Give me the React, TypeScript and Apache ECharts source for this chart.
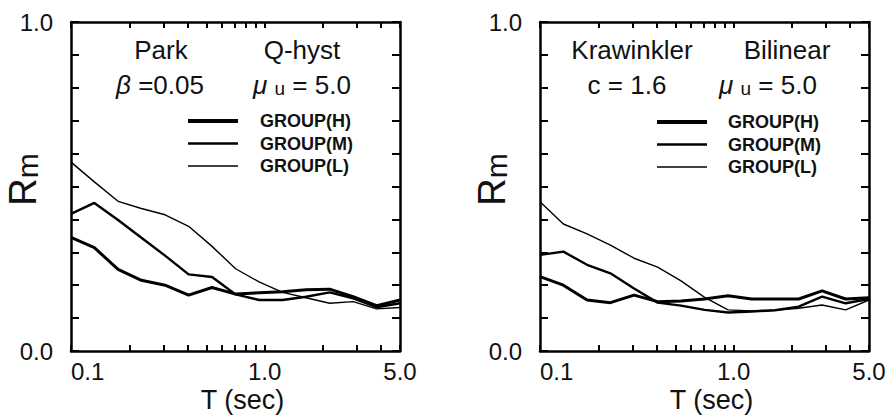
import React, { useEffect, useRef } from 'react';
import * as echarts from 'echarts';

// Periods T (sec) at which the spectra were read
const periods = [0.1, 0.132, 0.175, 0.231, 0.306, 0.405, 0.535, 0.708, 0.936, 1.238, 1.637, 2.165, 2.863, 3.786, 5.0];

// Left panel: Park (beta = 0.05), Q-hyst, mu_u = 5.0
const parkH = [0.345, 0.314, 0.248, 0.215, 0.2, 0.17, 0.193, 0.173, 0.177, 0.18, 0.186, 0.188, 0.165, 0.138, 0.155];
const parkM = [0.417, 0.45, 0.398, 0.344, 0.29, 0.233, 0.225, 0.172, 0.155, 0.155, 0.165, 0.178, 0.16, 0.133, 0.145];
const parkL = [0.574, 0.514, 0.455, 0.433, 0.414, 0.379, 0.318, 0.25, 0.21, 0.178, 0.162, 0.145, 0.15, 0.128, 0.132];

// Right panel: Krawinkler (c = 1.6), Bilinear, mu_u = 5.0
const kraH = [0.226, 0.2, 0.155, 0.147, 0.17, 0.15, 0.152, 0.158, 0.168, 0.158, 0.158, 0.158, 0.183, 0.158, 0.162];
const kraM = [0.292, 0.302, 0.262, 0.236, 0.19, 0.147, 0.138, 0.125, 0.117, 0.12, 0.124, 0.135, 0.165, 0.145, 0.158];
const kraL = [0.454, 0.386, 0.356, 0.322, 0.282, 0.255, 0.213, 0.163, 0.125, 0.122, 0.124, 0.13, 0.14, 0.125, 0.155];

const seriesNames = ['GROUP(H)', 'GROUP(M)', 'GROUP(L)'];
const xTickLabels = [0.1, 1.0, 5.0];
const xTicks = [0.1, 0.2, 0.3, 0.4, 0.5, 0.6, 0.7, 0.8, 0.9, 1.0, 2.0, 3.0, 4.0, 5.0];
const yTickLabels = [0.0, 1.0];

const FONT = '"Liberation Sans", Arial, Helvetica, sans-serif';
const INK = '#111';

export default function App() {
  const ref = useRef<HTMLDivElement>(null);

  useEffect(() => {
    if (!ref.current) return;
    const chart = echarts.init(ref.current, null, { renderer: 'svg' });

    const grids = [
      { left: 71, top: 22, width: 329, height: 329, containLabel: false, outerBoundsMode: 'none' },
      { left: 540, top: 22, width: 329, height: 329, containLabel: false, outerBoundsMode: 'none' },
    ];

    const axisLine = { show: true, onZero: false, lineStyle: { color: '#000', width: 2.5 } };

    const xAxes: any[] = [];
    const yAxes: any[] = [];
    grids.forEach((_, gi) => {
      xAxes.push({
        type: 'log',
        logBase: 10,
        gridIndex: gi,
        min: 0.1,
        max: 5,
        position: 'bottom',
        axisLine,
        axisTick: { show: true, inside: true, length: 6, customValues: xTicks, lineStyle: { color: '#000', width: 2 } },
        axisLabel: {
          show: true,
          customValues: xTickLabels,
          formatter: (v: number) => v.toFixed(1),
          fontSize: 24,
          fontFamily: FONT,
          color: INK,
          margin: 8,
          alignMinLabel: 'left',
        },
        splitLine: { show: false },
        minorTick: { show: false },
        name: 'T (sec)',
        nameLocation: 'middle',
        nameGap: 35,
        nameMoveOverlap: false,
        nameTextStyle: { fontSize: 27, fontFamily: FONT, color: INK, padding: [0, 0, 0, 14] },
      });
      xAxes.push({
        type: 'log',
        logBase: 10,
        gridIndex: gi,
        min: 0.1,
        max: 5,
        position: 'top',
        axisLine,
        axisTick: { show: true, inside: true, length: 6, customValues: xTicks, lineStyle: { color: '#000', width: 2 } },
        axisLabel: { show: false },
        splitLine: { show: false },
      });
      yAxes.push({
        type: 'value',
        gridIndex: gi,
        min: 0,
        max: 1,
        interval: 0.1,
        position: 'left',
        axisLine,
        axisTick: { show: true, inside: true, length: 8, lineStyle: { color: '#000', width: 2 } },
        axisLabel: {
          show: true,
          customValues: yTickLabels,
          formatter: (v: number) => v.toFixed(1),
          fontSize: 24,
          fontFamily: FONT,
          color: INK,
          margin: 18,
        },
        splitLine: { show: false },
        name: '{r|R}{m|m}',
        nameLocation: 'middle',
        nameGap: 29,
        nameMoveOverlap: false,
        nameTextStyle: {
          color: INK,
          padding: [0, 0, 0, 14],
          rich: {
            r: { fontSize: 38, fontFamily: FONT, color: INK, verticalAlign: 'bottom' },
            m: { fontSize: 30, fontFamily: FONT, color: INK, verticalAlign: 'bottom' },
          },
        },
      });
      yAxes.push({
        type: 'value',
        gridIndex: gi,
        min: 0,
        max: 1,
        interval: 0.1,
        position: 'right',
        axisLine,
        axisTick: { show: true, inside: true, length: 8, lineStyle: { color: '#000', width: 2 } },
        axisLabel: { show: false },
        splitLine: { show: false },
      });
    });

    const widths = [3, 2.4, 1.4];
    const panels = [
      [parkH, parkM, parkL],
      [kraH, kraM, kraL],
    ];
    const series: any[] = [];
    panels.forEach((sets, gi) => {
      sets.forEach((vals, si) => {
        series.push({
          type: 'line',
          name: seriesNames[si],
          xAxisIndex: gi * 2,
          yAxisIndex: gi * 2,
          data: periods.map((t, i) => [t, vals[i]]),
          symbol: 'none',
          color: '#000',
          lineStyle: { color: '#000', width: widths[si] },
        });
      });
    });

    const legendIcons = ['path://M0,0H50V4H0Z', 'path://M0,0H50V2.4H0Z', 'path://M0,0H50V1.4H0Z'];
    const legendData = seriesNames.map((n, i) => ({
      name: n,
      icon: legendIcons[i],
      itemStyle: { color: '#000', borderWidth: 0 },
    }));
    const legendBase = {
      orient: 'vertical',
      padding: 0,
      itemWidth: 50,
      itemHeight: 14,
      itemGap: 4.5,
      selectedMode: false,
      data: legendData,
      textStyle: { fontSize: 18, fontWeight: 'bold', lineHeight: 18, fontFamily: FONT, color: INK, padding: [0, 0, 0, 17] },
    };

    const txt = (x: number, y: number, text: string, rich?: any) => ({
      type: 'text',
      x,
      y,
      style: {
        text,
        fontSize: 26,
        fontFamily: FONT,
        fill: INK,
        align: 'center',
        verticalAlign: 'middle',
        rich,
      },
    });
    const greek = {
      g: { fontStyle: 'italic', fontSize: 26, fontFamily: FONT, color: INK, verticalAlign: 'bottom' },
      n: { fontSize: 26, fontFamily: FONT, color: INK, verticalAlign: 'bottom' },
    };
    const greekSub = {
      g: { fontStyle: 'italic', fontSize: 26, fontFamily: FONT, color: INK, verticalAlign: 'bottom' },
      s: { fontSize: 19, fontFamily: FONT, color: INK, verticalAlign: 'bottom' },
      n: { fontSize: 26, fontFamily: FONT, color: INK, verticalAlign: 'bottom' },
    };

    chart.setOption({
      animation: false,
      backgroundColor: '#fff',
      grid: grids,
      xAxis: xAxes,
      yAxis: yAxes,
      series,
      legend: [
        { ...legendBase, left: 188, top: 112 },
        { ...legendBase, left: 657, top: 113, textStyle: { ...legendBase.textStyle, padding: [0, 0, 0, 16] } },
      ],
      graphic: [
        txt(161, 50, 'Park'),
        txt(302, 50, 'Q-hyst'),
        txt(160, 85, '{g|β}{n| =0.05}', greek),
        txt(302, 85, '{g|μ}{n| }{s|u}{n| = 5.0}', greekSub),
        txt(632, 50, 'Krawinkler'),
        txt(787, 50, 'Bilinear'),
        txt(627, 85, 'c = 1.6'),
        txt(768, 85, '{g|μ}{n| }{s|u}{n| = 5.0}', greekSub),
      ],
    });

    return () => chart.dispose();
  }, []);

  return (
    <div
      ref={ref}
      style={{ position: 'fixed', left: 0, top: 0, width: 885, height: 420, background: '#fff' }}
    />
  );
}
